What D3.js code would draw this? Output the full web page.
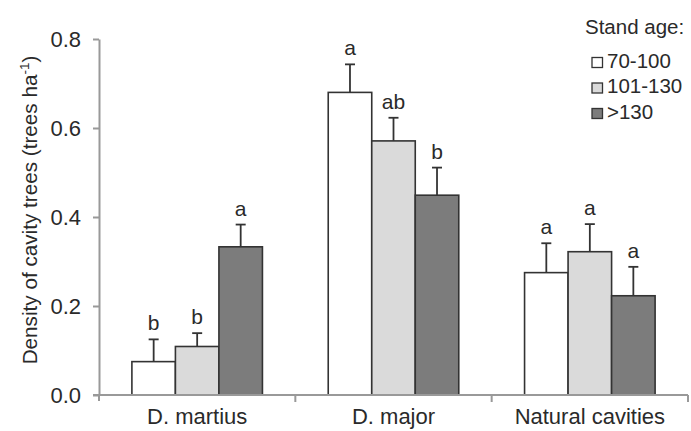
<!DOCTYPE html>
<html>
<head>
<meta charset="utf-8">
<script src="https://cdn.jsdelivr.net/npm/d3@7"></script>
<style>
  html, body { margin: 0; padding: 0; background: #fff; }
  svg { display: block; font-family: "Liberation Sans", Arial, sans-serif; }
</style>
</head>
<body>
<svg id="chart" width="691" height="431"></svg>
<script>
const categories = ["D. martius", "D. major", "Natural cavities"];
const seriesNames = ["70-100", "101-130", ">130"];
const means70 = [0.075, 0.680, 0.275];
const means101 = [0.109, 0.571, 0.322];
const means130 = [0.333, 0.449, 0.223];
const se70 = [0.050, 0.063, 0.066];
const se101 = [0.030, 0.052, 0.062];
const se130 = [0.050, 0.062, 0.065];
const letters70 = ["b", "a", "a"];
const letters101 = ["b", "ab", "a"];
const letters130 = ["a", "b", "a"];
const yTicks = [0, 0.2, 0.4, 0.6, 0.8];

const means = [means70, means101, means130];
const ses = [se70, se101, se130];
const letters = [letters70, letters101, letters130];
const fills = ["#ffffff", "#dadada", "#7c7c7c"];

const data = [];
categories.forEach((c, ci) => {
  seriesNames.forEach((s, si) => {
    data.push({cat: c, ser: s, si, v: means[si][ci], se: ses[si][ci], letter: letters[si][ci]});
  });
});

const svg = d3.select("#chart");
const axisColor = "#999";
const inkColor = "#333";
const textColor = "#2a2a2a";

const x0 = d3.scaleBand().domain(categories).range([99, 688]).paddingInner(0).paddingOuter(0);
const x1 = d3.scaleBand().domain(seriesNames).range([0, x0.bandwidth()]).paddingInner(0).paddingOuter(0.756);
const y = d3.scaleLinear().domain([0, 0.8]).range([395, 39]);

// Y axis
const yAxis = d3.axisLeft(y).tickValues(yTicks).tickFormat(d3.format(".1f")).tickSize(6).tickSizeOuter(0).tickPadding(12);
const gy = svg.append("g").attr("transform", "translate(99,0)").call(yAxis);
gy.select(".domain").attr("stroke", axisColor).attr("stroke-width", 2);
gy.selectAll(".tick line").attr("stroke", axisColor).attr("stroke-width", 2);
gy.selectAll(".tick text").attr("fill", textColor).style("font-size", "22px").style("font-family", "'Liberation Sans', Arial, sans-serif");
// extension of y axis below baseline
svg.append("line").attr("x1", 99).attr("x2", 99).attr("y1", y(0)).attr("y2", y(0) + 6).attr("stroke", axisColor).attr("stroke-width", 2);

// Bars
const bars = svg.append("g");
bars.selectAll("rect").data(data).join("rect")
  .attr("x", d => x0(d.cat) + x1(d.ser))
  .attr("y", d => y(d.v))
  .attr("width", x1.bandwidth())
  .attr("height", d => y(0) - y(d.v))
  .attr("fill", d => fills[d.si])
  .attr("stroke", inkColor)
  .attr("stroke-width", 1.6);

// X axis line
svg.append("line").attr("x1", 93).attr("x2", 688).attr("y1", y(0)).attr("y2", y(0)).attr("stroke", axisColor).attr("stroke-width", 2);
const bounds = categories.map(c => x0(c) + x0.bandwidth());
svg.append("g").selectAll("line").data(bounds).join("line")
  .attr("x1", d => d).attr("x2", d => d).attr("y1", y(0)).attr("y2", y(0) + 7)
  .attr("stroke", axisColor).attr("stroke-width", 2);

// Category labels
svg.append("g").selectAll("text").data(categories).join("text")
  .attr("x", d => x0(d) + x0.bandwidth() / 2)
  .attr("y", 424)
  .attr("text-anchor", "middle")
  .attr("fill", textColor)
  .style("font-size", "22px")
  .text(d => d);

// Error bars
const eb = svg.append("g").attr("stroke", inkColor).attr("stroke-width", 1.8);
data.forEach(d => {
  const cx = x0(d.cat) + x1(d.ser) + x1.bandwidth() / 2;
  eb.append("line").attr("x1", cx).attr("x2", cx).attr("y1", y(d.v)).attr("y2", y(d.v + d.se));
  eb.append("line").attr("x1", cx - 5).attr("x2", cx + 5).attr("y1", y(d.v + d.se)).attr("y2", y(d.v + d.se));
});

// Significance letters
svg.append("g").selectAll("text").data(data).join("text")
  .attr("x", d => x0(d.cat) + x1(d.ser) + x1.bandwidth() / 2)
  .attr("y", d => y(d.v + d.se) - 9)
  .attr("text-anchor", "middle")
  .attr("fill", textColor)
  .style("font-size", "21px")
  .text(d => d.letter);

// Y axis title
const yt = svg.append("text")
  .attr("transform", "translate(37,210) rotate(-90)")
  .attr("text-anchor", "middle")
  .attr("fill", textColor)
  .style("font-size", "20.7px");
yt.append("tspan").text("Density of cavity trees (trees ha");
yt.append("tspan").attr("dy", -8).style("font-size", "13.5px").text("-1");
yt.append("tspan").attr("dy", 8).text(")");

// Legend
const lg = svg.append("g");
lg.append("text").attr("x", 585).attr("y", 33.5).attr("fill", textColor).style("font-size", "20.5px").text("Stand age:");
const rows = lg.selectAll("g.row").data(seriesNames).join("g").attr("class", "row")
  .attr("transform", (d, i) => `translate(592, ${67.5 + i * 25.5})`);
rows.append("rect").attr("x", 0).attr("y", -10).attr("width", 10.5).attr("height", 10)
  .attr("fill", (d, i) => fills[i]).attr("stroke", inkColor).attr("stroke-width", 1.3);
rows.append("text").attr("x", 15).attr("y", 0).attr("fill", textColor).style("font-size", "20.5px").text(d => d);
</script>
</body>
</html>
